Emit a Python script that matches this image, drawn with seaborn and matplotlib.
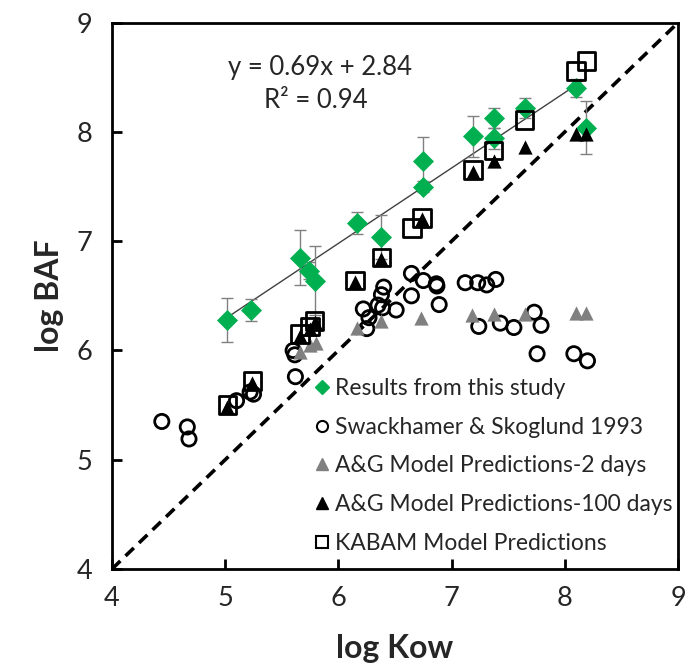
import numpy as np
import pandas as pd
import seaborn as sns
import matplotlib.pyplot as plt
from matplotlib.lines import Line2D

# Results from this study (log Kow, log BAF, error)
study_kow = [5.02, 5.23, 5.665, 5.74, 5.79, 6.165, 6.38, 6.75, 6.75, 7.19, 7.37, 7.37, 7.645, 8.10, 8.19]
study_baf = [6.28, 6.37, 6.85, 6.73, 6.64, 7.17, 7.04, 7.73, 7.50, 7.96, 8.13, 7.94, 8.22, 8.40, 8.04]
study_err = [0.20, 0.10, 0.25, 0.08, 0.32, 0.10, 0.20, 0.22, 0.05, 0.19, 0.09, 0.10, 0.09, 0.08, 0.24]

# Swackhamer & Skoglund 1993
swack_kow = [4.44, 4.665, 4.68, 5.10, 5.22, 5.25, 5.60, 5.615, 5.62, 6.22, 6.27, 6.25,
             6.35, 6.38, 6.40, 6.39, 6.51, 6.645, 6.645, 6.75, 6.865, 6.87, 6.89, 7.12,
             7.23, 7.31, 7.39, 7.24, 7.43, 7.55, 7.73, 7.79, 7.755, 8.08, 8.20]
swack_baf = [5.35, 5.30, 5.19, 5.54, 5.62, 5.60, 6.00, 5.96, 5.76, 6.38, 6.30, 6.20,
             6.415, 6.51, 6.58, 6.39, 6.37, 6.705, 6.50, 6.64, 6.61, 6.59, 6.42, 6.62,
             6.62, 6.60, 6.65, 6.22, 6.25, 6.21, 6.35, 6.23, 5.97, 5.97, 5.905]

# A&G model predictions, 2 days
ag2_kow = [5.66, 5.75, 5.80, 6.16, 6.38, 6.73, 7.18, 7.37, 7.645, 8.10, 8.19]
ag2_baf = [5.99, 6.05, 6.07, 6.21, 6.27, 6.30, 6.32, 6.33, 6.33, 6.34, 6.34]

# A&G model predictions, 100 days
ag100_kow = [5.02, 5.24, 5.66, 5.75, 5.79, 6.145, 6.38, 6.74, 7.19, 7.37, 7.645, 8.10, 8.19]
ag100_baf = [5.48, 5.70, 6.13, 6.20, 6.26, 6.63, 6.84, 7.20, 7.63, 7.73, 7.86, 7.98, 7.98]

# KABAM model predictions
kabam_kow = [5.02, 5.24, 5.66, 5.75, 5.79, 6.145, 6.38, 6.65, 6.74, 7.19, 7.37, 7.645, 8.10, 8.19]
kabam_baf = [5.50, 5.72, 6.15, 6.22, 6.27, 6.64, 6.85, 7.12, 7.21, 7.65, 7.83, 8.11, 8.56, 8.65]

# fitted line for the study results
slope, intercept, r2 = 0.69, 2.84, 0.94

legend_labels = ["Results from this study", "Swackhamer & Skoglund 1993",
                 "A&G Model Predictions-2 days", "A&G Model Predictions-100 days",
                 "KABAM Model Predictions"]

sns.set_theme(style="ticks")
plt.rcParams['font.family'] = ['Lato', 'DejaVu Sans']

green = "#00B050"
grey = "#808080"

fig = plt.figure(figsize=(6.88, 6.65), dpi=100)
ax = fig.add_axes([0.1628, 0.1444, 0.8227, 0.8215])

# 1:1 line
one_to_one = pd.DataFrame({"x": [4, 9], "y": [4, 9]})
sns.lineplot(data=one_to_one, x="x", y="y", ax=ax, color="black", lw=2.6,
             zorder=1).lines[-1].set_dashes((3.2, 2.0))

# regression line over the study range
fit_x = np.array([min(study_kow), max(study_kow)])
fit = pd.DataFrame({"x": fit_x, "y": slope * fit_x + intercept})
sns.lineplot(data=fit, x="x", y="y", ax=ax, color="#404040", lw=1.0, zorder=2)

ax.errorbar(study_kow, study_baf, yerr=study_err, fmt="none", ecolor=grey,
            elinewidth=1.0, capsize=4, capthick=1.0, zorder=2)

sns.scatterplot(x=study_kow, y=study_baf, ax=ax, marker="D", s=115,
                color=green, edgecolor=green, linewidth=0, zorder=3)
sns.scatterplot(x=swack_kow, y=swack_baf, ax=ax, marker="o", s=105,
                facecolor="none", edgecolor="black", linewidth=2.0, zorder=4)
sns.scatterplot(x=ag2_kow, y=ag2_baf, ax=ax, marker="^", s=105,
                color=grey, edgecolor=grey, linewidth=0, zorder=5)
sns.scatterplot(x=ag100_kow, y=ag100_baf, ax=ax, marker="^", s=105,
                color="black", edgecolor="black", linewidth=0, zorder=6)
sns.scatterplot(x=kabam_kow, y=kabam_baf, ax=ax, marker="s", s=160,
                facecolor="none", edgecolor="black", linewidth=2.0, zorder=7)

ax.text(5.84, 8.59, f"y = {slope}x + {intercept}", ha="center", va="center", fontsize=18.5)
ax.text(5.80, 8.29, f"R² = {r2}", ha="center", va="center", fontsize=18.5)

ax.set_xlim(4, 9)
ax.set_ylim(4, 9)
ax.set_xticks(range(4, 10))
ax.set_yticks(range(4, 10))
ax.tick_params(direction="in", length=7, width=2, labelsize=19.5, pad=12, color="black")
ax.tick_params(axis="y", pad=14)
for side in ["top", "right", "bottom", "left"]:
    ax.spines[side].set_visible(True)
    ax.spines[side].set_linewidth(2)
    ax.spines[side].set_color("black")

ax.set_xlabel("log Kow", fontsize=23, fontweight="bold", labelpad=17)
ax.set_ylabel("log BAF", fontsize=23, fontweight="bold", labelpad=9)

handles = [
    Line2D([], [], ls="none", marker="D", ms=7, color=green, mec=green),
    Line2D([], [], ls="none", marker="o", ms=8, mfc="none", mec="black", mew=1.5),
    Line2D([], [], ls="none", marker="^", ms=8, color=grey, mec=grey),
    Line2D([], [], ls="none", marker="^", ms=8, color="black"),
    Line2D([], [], ls="none", marker="s", ms=9, mfc="none", mec="black", mew=1.5),
]
ax.legend(handles, legend_labels, loc="lower left", bbox_to_anchor=(0.36, 0.027),
          frameon=False, fontsize=16.5, handlelength=0.5, handletextpad=0.35,
          labelspacing=0.78, borderpad=0, borderaxespad=0)

fig.savefig("out.png", dpi=100)
